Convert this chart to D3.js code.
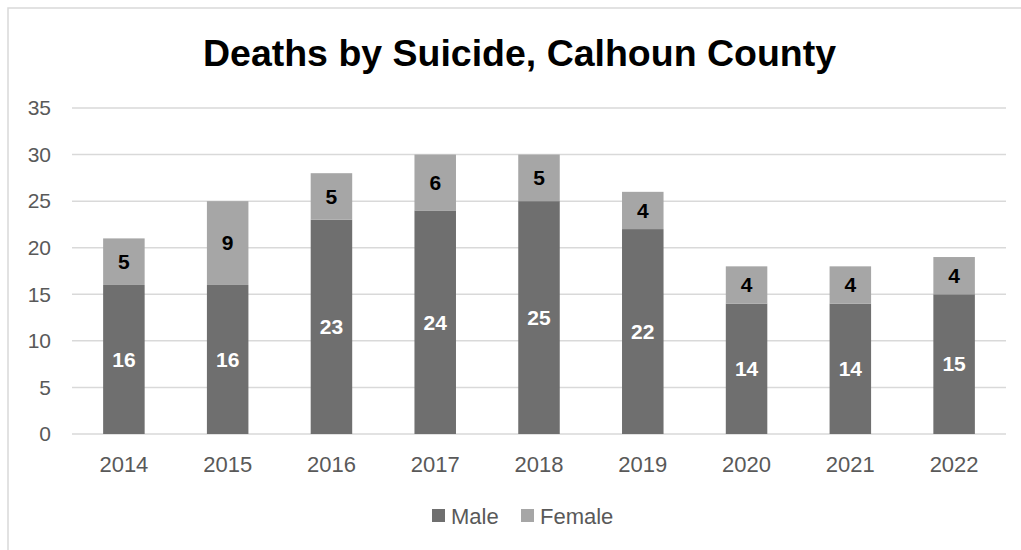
<!DOCTYPE html>
<html>
<head>
<meta charset="utf-8">
<script src="https://cdn.jsdelivr.net/npm/d3@7"></script>
<style>
  body { margin: 0; background: #fff; }
  svg { display: block; font-family: "Liberation Sans", Arial, sans-serif; }
</style>
</head>
<body>
<div id="chart"></div>
<script>
const years = ["2014", "2015", "2016", "2017", "2018", "2019", "2020", "2021", "2022"];
const male = [16, 16, 23, 24, 25, 22, 14, 14, 15];
const female = [5, 9, 5, 6, 5, 4, 4, 4, 4];
const yTicks = [0, 5, 10, 15, 20, 25, 30, 35];

const width = 1021;
const height = 550;
const margin = { top: 108, right: 15, bottom: 116, left: 72 };

const svg = d3.select("#chart")
    .append("svg")
    .attr("width", width)
    .attr("height", height);

// chart frame
svg.append("rect")
    .attr("x", 8).attr("y", 8)
    .attr("width", width + 20).attr("height", height + 20)
    .attr("fill", "none")
    .attr("stroke", "#d9d9d9")
    .attr("stroke-width", 1.5);

const x = d3.scaleBand()
    .domain(years)
    .range([margin.left, width - margin.right])
    .paddingInner(0.6)
    .paddingOuter(0.3);

const y = d3.scaleLinear()
    .domain([0, 35])
    .range([height - margin.bottom, margin.top]);

// gridlines
svg.append("g")
    .selectAll("line")
    .data(yTicks)
    .enter().append("line")
    .attr("x1", margin.left)
    .attr("x2", width - margin.right)
    .attr("y1", d => y(d))
    .attr("y2", d => y(d))
    .attr("stroke", "#d9d9d9")
    .attr("stroke-width", 1.5);

// y labels
svg.append("g")
    .selectAll("text")
    .data(yTicks)
    .enter().append("text")
    .attr("x", 51)
    .attr("y", d => y(d))
    .attr("dy", "0.35em")
    .attr("text-anchor", "end")
    .style("font-size", "21px")
    .style("fill", "#595959")
    .text(d => d);

// x labels
svg.append("g")
    .selectAll("text")
    .data(years)
    .enter().append("text")
    .attr("x", d => x(d) + x.bandwidth() / 2)
    .attr("y", y(0) + 38)
    .attr("text-anchor", "middle")
    .style("font-size", "22px")
    .style("fill", "#595959")
    .text(d => d);

const rows = years.map((yr, i) => ({ year: yr, male: male[i], female: female[i] }));

// male bars
svg.append("g")
    .selectAll("rect")
    .data(rows)
    .enter().append("rect")
    .attr("x", d => x(d.year))
    .attr("width", x.bandwidth())
    .attr("y", d => y(d.male))
    .attr("height", d => y(0) - y(d.male))
    .attr("fill", "#6f6f6f");

// female bars
svg.append("g")
    .selectAll("rect")
    .data(rows)
    .enter().append("rect")
    .attr("x", d => x(d.year))
    .attr("width", x.bandwidth())
    .attr("y", d => y(d.male + d.female))
    .attr("height", d => y(d.male) - y(d.male + d.female))
    .attr("fill", "#a6a6a6");

// labels
svg.append("g")
    .selectAll("text")
    .data(rows)
    .enter().append("text")
    .attr("x", d => x(d.year) + x.bandwidth() / 2)
    .attr("y", d => y(d.male / 2))
    .attr("dy", "0.35em")
    .attr("text-anchor", "middle")
    .style("font-size", "21px")
    .style("font-weight", "bold")
    .style("fill", "#fff")
    .text(d => d.male);

svg.append("g")
    .selectAll("text")
    .data(rows)
    .enter().append("text")
    .attr("x", d => x(d.year) + x.bandwidth() / 2)
    .attr("y", d => y(d.male + d.female / 2))
    .attr("dy", "0.35em")
    .attr("text-anchor", "middle")
    .style("font-size", "21px")
    .style("font-weight", "bold")
    .style("fill", "#000")
    .text(d => d.female);

// title
svg.append("text")
    .attr("x", 519.5)
    .attr("y", 66)
    .attr("text-anchor", "middle")
    .attr("textLength", 633)
    .attr("lengthAdjust", "spacingAndGlyphs")
    .style("font-size", "37px")
    .style("font-weight", "bold")
    .style("fill", "#000")
    .text("Deaths by Suicide, Calhoun County");

// legend
const legend = [
    { name: "Male", color: "#6f6f6f", x: 432 },
    { name: "Female", color: "#a6a6a6", x: 521 }
];
const lg = svg.append("g")
    .selectAll("g")
    .data(legend)
    .enter().append("g");
lg.append("rect")
    .attr("x", d => d.x)
    .attr("y", 509)
    .attr("width", 13)
    .attr("height", 13)
    .attr("fill", d => d.color);
lg.append("text")
    .attr("x", d => d.x + 19)
    .attr("y", 516)
    .attr("dy", "0.35em")
    .style("font-size", "22px")
    .style("fill", "#595959")
    .text(d => d.name);
</script>
</body>
</html>
